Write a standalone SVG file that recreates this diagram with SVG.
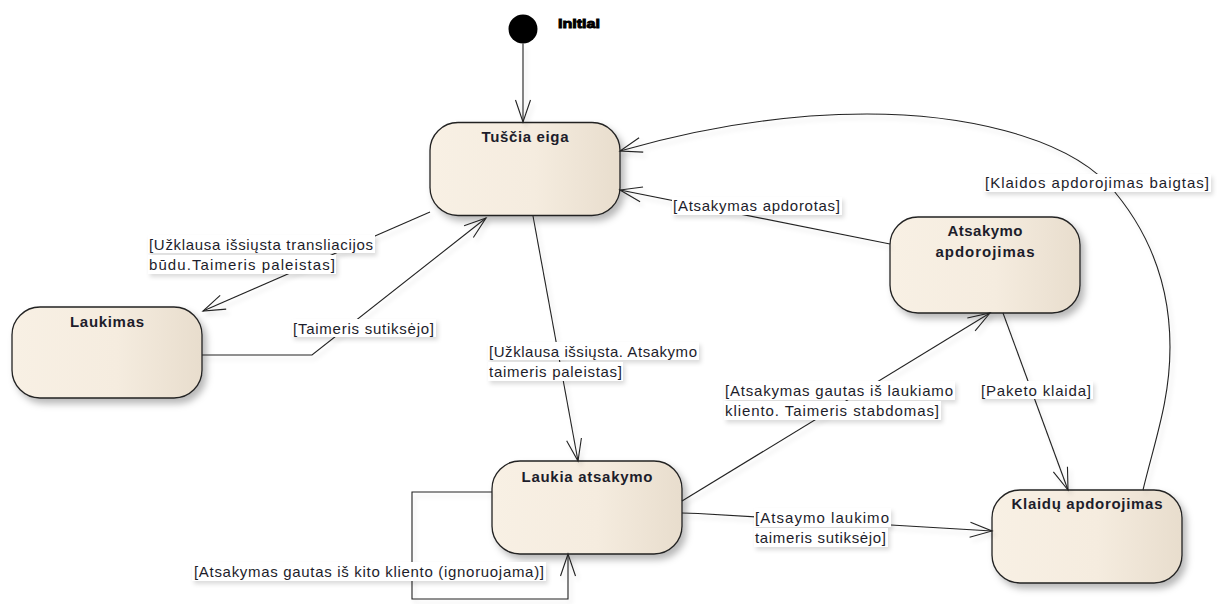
<svg xmlns="http://www.w3.org/2000/svg" width="1221" height="604" viewBox="0 0 1221 604">
  <defs>
    <linearGradient id="stateFill" x1="0" y1="0" x2="1" y2="0">
      <stop offset="0" stop-color="#f8f0e4"/>
      <stop offset="0.55" stop-color="#f5ecdf"/>
      <stop offset="1" stop-color="#e8ddcd"/>
    </linearGradient>
    <filter id="shadow" x="-20%" y="-20%" width="150%" height="160%">
      <feDropShadow dx="4" dy="5" stdDeviation="3.5" flood-color="#000" flood-opacity="0.28"/>
    </filter>
    <filter id="labelShadow" x="-10%" y="-30%" width="130%" height="190%">
      <feDropShadow dx="2" dy="3" stdDeviation="2" flood-color="#000" flood-opacity="0.14"/>
    </filter>
    <filter id="lineShadow" filterUnits="userSpaceOnUse" x="0" y="0" width="1221" height="604">
      <feDropShadow dx="3" dy="4" stdDeviation="2" flood-color="#000" flood-opacity="0.12"/>
    </filter>
    <marker id="open" markerUnits="userSpaceOnUse" viewBox="-24 -10 26 20" refX="0" refY="0" markerWidth="26" markerHeight="20" orient="auto" overflow="visible">
      <path d="M-22,-7.5 L0,0 L-22,7.5" fill="none" stroke="#222" stroke-width="1.1"/>
    </marker>
  </defs>
  <style>
    .state{fill:url(#stateFill);stroke:#222;stroke-width:1.3;filter:url(#shadow)}
    .title{font-family:"Liberation Sans",Arial,sans-serif;font-size:15px;font-weight:bold;fill:#1d1d2b;text-anchor:middle}
    .edge{fill:none;stroke:#222;stroke-width:1.1;marker-end:url(#open)}
    .lbl-bg{fill:#fff;filter:url(#labelShadow)}
    .lbl{font-family:"Liberation Sans",Arial,sans-serif;font-size:15px;fill:#1d1d2b}
  </style>

  <rect width="1221" height="604" fill="#fff"/>

  <!-- initial pseudo-state -->
  <g id="initial">
    <circle cx="523" cy="29" r="14.5" fill="#000"/>
    <text x="558" y="28" textLength="42" lengthAdjust="spacingAndGlyphs" font-family="'Liberation Sans',Arial,sans-serif" font-size="13" font-weight="bold" fill="#000" stroke="#000" stroke-width="0.9">Initial</text>
  </g>

  <!-- states -->
  <g id="tuscia-eiga">
    <rect class="state" x="430" y="122.5" width="190" height="93" rx="28"/>
    <text class="title" x="525" y="142" textLength="87">Tuščia eiga</text>
  </g>
  <g id="laukimas">
    <rect class="state" x="12" y="307" width="190" height="91" rx="28"/>
    <text class="title" x="107" y="327" textLength="74">Laukimas</text>
  </g>
  <g id="atsakymo-apdorojimas">
    <rect class="state" x="890" y="217" width="190" height="96" rx="28"/>
    <text class="title" x="985" y="236" textLength="75">Atsakymo</text>
    <text class="title" x="985" y="257" textLength="99">apdorojimas</text>
  </g>
  <g id="laukia-atsakymo">
    <rect class="state" x="492" y="461" width="190" height="93" rx="28"/>
    <text class="title" x="587" y="482" textLength="131">Laukia atsakymo</text>
  </g>
  <g id="klaidu-apdorojimas">
    <rect class="state" x="992" y="490" width="190" height="93" rx="28"/>
    <text class="title" x="1087" y="509" textLength="151">Klaidų apdorojimas</text>
  </g>

  <!-- transitions -->
  <g id="connectors">
    <g filter="url(#lineShadow)">
      <path class="edge" d="M523,43.5 L523,122"/>
      <path class="edge" d="M430,212 L203,311"/>
      <path class="edge" d="M202,355 L312,355 L486,218"/>
      <path class="edge" d="M533,216 L578,461"/>
      <path class="edge" d="M492,492 L412,492 L412,599 L568,599 L568,554"/>
      <path class="edge" d="M682,501 L990,313"/>
      <path class="edge" d="M890,244 L620,190"/>
      <path class="edge" d="M1003,313 L1068,490"/>
      <path class="edge" d="M682,513 L698,513.5 L992,531"/>
      <path class="edge" d="M1143,490 C1155,440 1170,400 1170,347 C1170,280 1145,225 1107,183 C1060,135 960,114 867,114 C780,114 700,128 620,151"/>
    </g>

    <!-- guard labels -->
    <g id="labels">
      <rect class="lbl-bg" x="148" y="235" width="227" height="18"/>
      <rect class="lbl-bg" x="148" y="255" width="188" height="19"/>
      <text class="lbl" x="149" y="250" textLength="224">[Užklausa išsiųsta transliacijos</text>
      <text class="lbl" x="149" y="270" textLength="186">būdu.Taimeris paleistas]</text>

      <rect class="lbl-bg" x="292" y="319" width="144" height="18"/>
      <text class="lbl" x="293" y="334" textLength="141">[Taimeris sutiksėjo]</text>

      <rect class="lbl-bg" x="488" y="342" width="211" height="18"/>
      <rect class="lbl-bg" x="488" y="362" width="135" height="19"/>
      <text class="lbl" x="489" y="357" textLength="208">[Užklausa išsiųsta. Atsakymo</text>
      <text class="lbl" x="489" y="377" textLength="133">taimeris paleistas]</text>

      <rect class="lbl-bg" x="672" y="197" width="170" height="18"/>
      <text class="lbl" x="673" y="211" textLength="167">[Atsakymas apdorotas]</text>

      <rect class="lbl-bg" x="984" y="174" width="227" height="18"/>
      <text class="lbl" x="985" y="188" textLength="224">[Klaidos apdorojimas baigtas]</text>

      <rect class="lbl-bg" x="724" y="381" width="231" height="19"/>
      <rect class="lbl-bg" x="724" y="401" width="217" height="19"/>
      <text class="lbl" x="725" y="396" textLength="228">[Atsakymas gautas iš laukiamo</text>
      <text class="lbl" x="725" y="416" textLength="214">kliento. Taimeris stabdomas]</text>

      <rect class="lbl-bg" x="980" y="381" width="113" height="18"/>
      <text class="lbl" x="981" y="396" textLength="110">[Paketo klaida]</text>

      <rect class="lbl-bg" x="754" y="508" width="137" height="19"/>
      <rect class="lbl-bg" x="754" y="528" width="134" height="19"/>
      <text class="lbl" x="755" y="523" textLength="134">[Atsaymo laukimo</text>
      <text class="lbl" x="755" y="543" textLength="131">taimeris sutiksėjo]</text>

      <rect class="lbl-bg" x="192" y="562" width="354" height="19"/>
      <text class="lbl" x="194" y="577" textLength="350">[Atsakymas gautas iš kito kliento (ignoruojama)]</text>
    </g>
  </g>
</svg>
